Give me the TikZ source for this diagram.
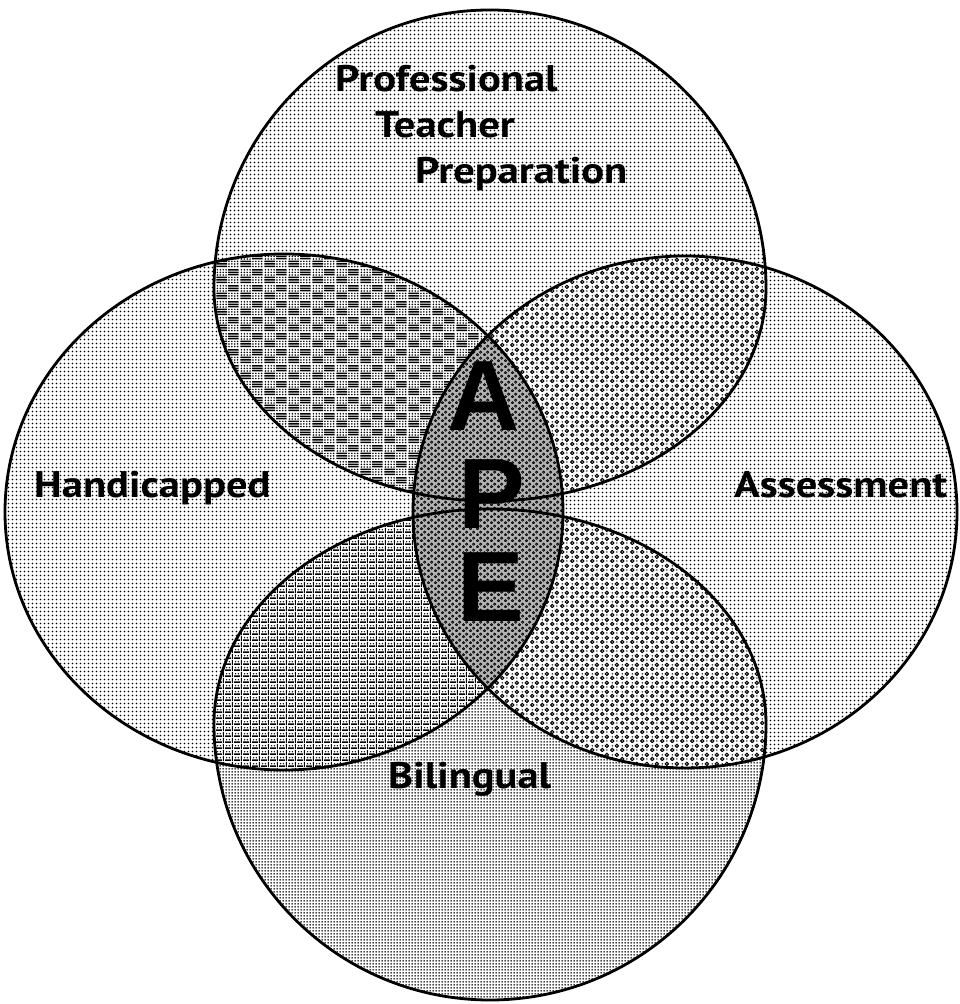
\documentclass[tikz,border=0pt]{standalone}
\usepackage{fontspec}
\newfontfamily\lblfont[FakeStretch=1.15]{PT Sans}
\newfontfamily\apefont{Liberation Sans}
\usetikzlibrary{patterns.meta}

% ---------- halftone-like fill patterns ----------
\tikzdeclarepattern{
  name=litedots, type=uncolored,
  bounding box={(0pt,0pt) and (3.5pt,3.5pt)},
  tile size={(3.5pt,3.5pt)},
  code={\fill (1.75pt,1.75pt) circle [radius=0.98pt];}
}
\tikzdeclarepattern{
  name=densedots, type=uncolored,
  bounding box={(0pt,0pt) and (3pt,3pt)},
  tile size={(3pt,3pt)},
  code={\fill (1.5pt,1.5pt) circle [radius=1.14pt];}
}
\tikzdeclarepattern{
  name=basket, type=uncolored,
  bounding box={(0pt,0pt) and (24pt,16pt)},
  tile size={(24pt,16pt)},
  code={
    \foreach \yy in {1.0,3.6,6.2} {\fill (0.5pt,\yy pt) rectangle ++(11pt,1.6pt);}
    \foreach \yy in {9.0,11.6,14.2} {\fill (12.5pt,\yy pt) rectangle ++(11pt,1.6pt);}
    \foreach \xx in {13.5,16.5,19.5,22.5} {\foreach \yy in {1.5,4.3,7} {\fill (\xx pt,\yy pt) circle [radius=0.9pt];}}
    \foreach \xx in {1.5,4.5,7.5,10.5} {\foreach \yy in {9.5,12.3,15} {\fill (\xx pt,\yy pt) circle [radius=0.9pt];}}
  }
}
\tikzdeclarepattern{
  name=weave, type=uncolored,
  bounding box={(0pt,0pt) and (9pt,5.5pt)},
  tile size={(9pt,5.5pt)},
  code={
    \fill (0pt,0pt) rectangle (6.6pt,1.7pt);
    \fill (7.6pt,0pt) rectangle (8.6pt,5.5pt);
    \fill (1.8pt,3.6pt) circle [radius=0.85pt];
    \fill (4.8pt,3.6pt) circle [radius=0.85pt];
  }
}
\tikzdeclarepattern{
  name=rings, type=uncolored,
  bounding box={(0pt,0pt) and (10pt,9pt)},
  tile size={(10pt,9pt)},
  code={
    \draw[line width=1.1pt] (2.5pt,2.25pt) circle [radius=1.8pt];
    \draw[line width=1.1pt] (7.5pt,6.75pt) circle [radius=1.8pt];
    \fill (7.5pt,2.25pt) circle [radius=0.8pt];
    \fill (2.5pt,6.75pt) circle [radius=0.8pt];
  }
}
\tikzdeclarepattern{
  name=smallrings, type=uncolored,
  bounding box={(0pt,0pt) and (7pt,6pt)},
  tile size={(7pt,6pt)},
  code={
    \draw[line width=0.9pt] (1.75pt,1.5pt) circle [radius=1.25pt];
    \draw[line width=0.9pt] (5.25pt,4.5pt) circle [radius=1.25pt];
  }
}

% ---------- the four sets ----------
\newcommand\eggT{(214,716) arc [start angle=180, end angle=0, x radius=276pt, y radius=278pt]
  arc [start angle=0, end angle=-180, x radius=276pt, y radius=213pt] -- cycle}
\newcommand\eggB{(214,280) arc [start angle=180, end angle=0, x radius=276pt, y radius=215pt]
  arc [start angle=0, end angle=-180, x radius=276pt, y radius=276pt] -- cycle}
\newcommand\ovalL{(284,492) ellipse [x radius=279pt, y radius=258pt]}
\newcommand\ovalR{(685,492) ellipse [x radius=272pt, y radius=256pt]}

\begin{document}
\begin{tikzpicture}[x=1pt, y=1pt,
  lbl/.style={font=\lblfont\fontsize{37}{40}\selectfont\bfseries, inner sep=0pt},
  big/.style={font=\apefont\fontsize{100}{100}\selectfont\bfseries, inner sep=0pt},
  outline/.style={line width=2.8pt, draw=black}]
\useasboundingbox (0,0) rectangle (959,1004);
\fill[white] (0,0) rectangle (959,1004);

% single-set areas
\fill[pattern=litedots] \eggT;
\fill[pattern=litedots] \ovalL;
\fill[pattern=litedots] \ovalR;
\fill[pattern=densedots] \eggB;

% pairwise overlaps
\begin{scope}
  \clip \eggT;
  \fill[white] \ovalL; \fill[pattern=basket] \ovalL;
\end{scope}
\begin{scope}
  \clip \eggT;
  \fill[white] \ovalR; \fill[pattern=rings] \ovalR;
\end{scope}
\begin{scope}
  \clip \eggB;
  \fill[white] \ovalL; \fill[pattern=weave] \ovalL;
\end{scope}
\begin{scope}
  \clip \eggB;
  \fill[white] \ovalR; \fill[pattern=rings] \ovalR;
\end{scope}
% central lens
\begin{scope}
  \clip \ovalL;
  \fill[black!30] \ovalR; \fill[pattern=smallrings] \ovalR;
\end{scope}

% outlines
\draw[outline] \eggT;
\draw[outline] \eggB;
\draw[outline] \ovalL;
\draw[outline] \ovalR;

% labels
\node[lbl, anchor=base west] (prof)   at (335,912) {Professional};
\node[lbl, anchor=base west] (teach)  at (375,866) {Teacher};
\node[lbl, anchor=base west] (prep)   at (415,820) {Preparation};
\node[lbl, anchor=base west] (hand)   at (34,506)  {Handicapped};
\node[lbl, anchor=base west] (assess) at (734,506) {Assessment};
\node[lbl, anchor=base west] (bil)    at (388,215) {Bilingual};

% the central acronym
\node[big] (la) at (484,608) {A};
\node[big] (lp) at (492,510) {P};
\node[big] (le) at (491,417) {E};
\end{tikzpicture}
\end{document}
